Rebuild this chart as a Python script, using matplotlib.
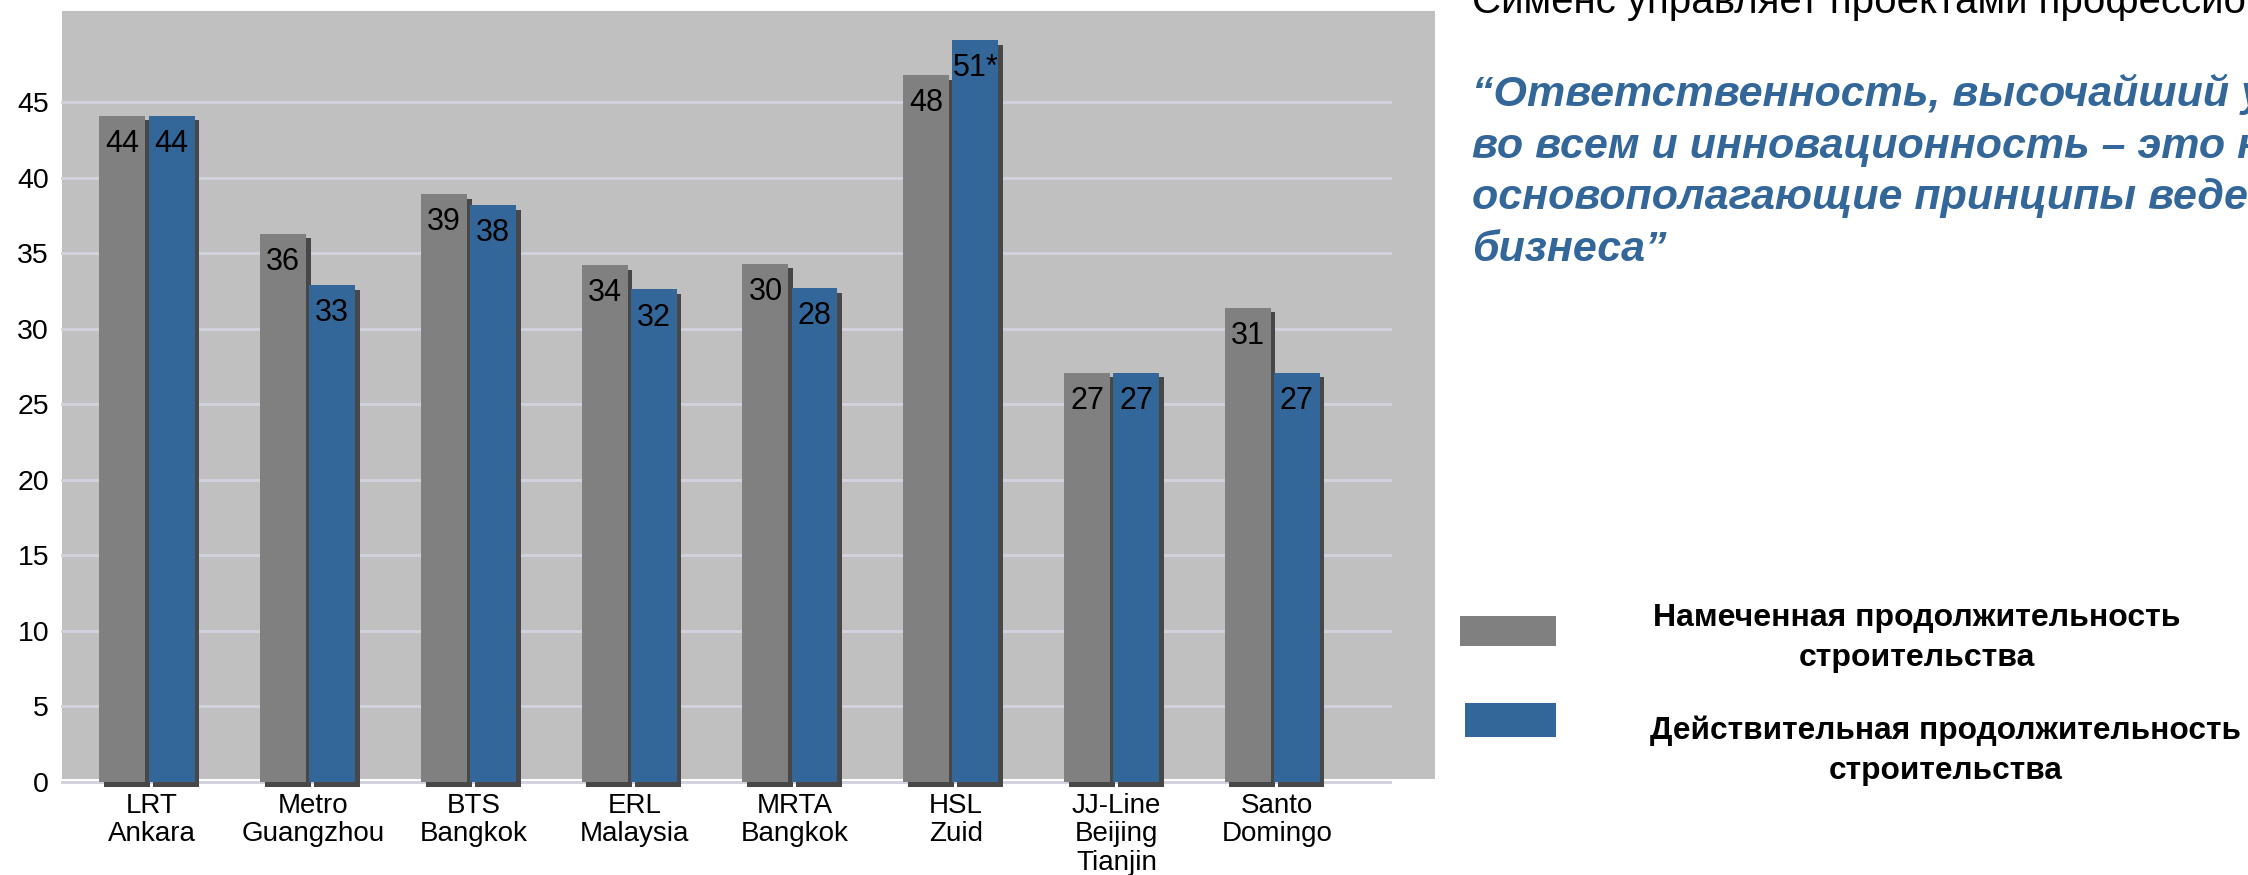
import matplotlib
matplotlib.use("Agg")
import matplotlib.pyplot as plt
import matplotlib.patheffects as pe
from matplotlib.patches import Rectangle
from matplotlib.transforms import ScaledTranslation
import numpy as np

plt.rcParams['font.family'] = ['Liberation Sans', 'DejaVu Sans']

# ---------------- data ----------------
categories = ["LRT\nAnkara", "Metro\nGuangzhou", "BTS\nBangkok", "ERL\nMalaysia",
              "MRTA\nBangkok", "HSL\nZuid", "JJ-Line\nBeijing\nTianjin", "Santo\nDomingo"]
planned_heights = [44.1, 36.3, 38.9, 34.2, 34.3, 46.8, 27.1, 31.4]
actual_heights = [44.1, 32.9, 38.2, 32.6, 32.7, 49.1, 27.1, 27.1]
planned_labels = ["44", "36", "39", "34", "30", "48", "27", "31"]
actual_labels = ["44", "33", "38", "32", "28", "51*", "27", "27"]
y_ticks = [0, 5, 10, 15, 20, 25, 30, 35, 40, 45]

legend_planned = "Намеченная продолжительность\nстроительства"
legend_actual = "Действительная продолжительность\nстроительства"
title_text = "Сименс управляет проектами профессионально"
quote_text = ("“Ответственность, высочайший уровень\n"
              "во всем и инновационность – это наши\n"
              "основополагающие принципы ведения\n"
              "бизнеса”")

GRAY = "#808080"
BLUE = "#336699"
SHADOW = "#474747"
PANEL = "#c0c0c0"
GRID = "#d2d2de"

W, H = 2248, 875
fig = plt.figure(figsize=(W / 100, H / 100), dpi=100)

def fx(px):
    return px / W

def fy(py):
    return 1 - py / H

# gray panel behind the plot
fig.patches.append(Rectangle((fx(62), fy(779)), fx(1435) - fx(62), fy(11) - fy(779),
                             transform=fig.transFigure, facecolor=PANEL,
                             edgecolor='none', zorder=-5))

# axes
ax_left, ax_right = 61, 1392
ax_top, ax_bottom = 11, 789.55
ax = fig.add_axes([fx(ax_left), fy(ax_bottom), fx(ax_right) - fx(ax_left), fy(ax_top) - fy(ax_bottom)])
ax.set_facecolor('none')
ax.set_zorder(2)
for s in ax.spines.values():
    s.set_visible(False)

x = np.arange(len(categories))
bw = 0.286
off = 0.1525
shadow = [pe.SimplePatchShadow(offset=(3.4, -3.4), shadow_rgbFace=SHADOW, alpha=1.0), pe.Normal()]

b1 = ax.bar(x - off, planned_heights, bw, color=GRAY, zorder=3)
b2 = ax.bar(x + off, actual_heights, bw, color=BLUE, zorder=3)
for b in list(b1) + list(b2):
    b.set_path_effects(shadow)

for xi, h, lab in zip(x - off, planned_heights, planned_labels):
    ax.annotate(lab, (xi, h), xytext=(0, -9.5), textcoords='offset points',
                ha='center', va='top', fontsize=22, color='black', zorder=5)
for xi, h, lab in zip(x + off, actual_heights, actual_labels):
    ax.annotate(lab, (xi, h), xytext=(0, -9.5), textcoords='offset points',
                ha='center', va='top', fontsize=22, color='black', zorder=5)

ax.set_ylim(-0.5, 51.03)
ax.set_xlim(-0.535, 7.745)
ax.set_yticks(y_ticks)
ax.set_yticklabels([str(v) for v in y_ticks])
ax.set_xticks(x)
ax.set_xticklabels(categories, linespacing=1.12)
ax.tick_params(axis='y', length=0, pad=8.6, labelsize=20.5)
ax.tick_params(axis='x', length=0, pad=2.5, labelsize=20)
for lbl in ax.get_xticklabels():
    lbl.set_transform(lbl.get_transform() + ScaledTranslation(5 / 100, 0, fig.dpi_scale_trans))
ax.yaxis.grid(True, color=GRID, linewidth=2.1, zorder=0)
ax.set_axisbelow(True)

# right-hand texts
fig.text(fx(1472), fy(13), title_text, ha='left', va='baseline', fontsize=29, color='black')
fig.text(fx(1472), fy(74), quote_text, ha='left', va='top', fontsize=31,
         fontweight='bold', fontstyle='italic', color=BLUE, linespacing=1.37)

# manual legend
fig.patches.append(Rectangle((fx(1460), fy(646)), fx(1556) - fx(1460), fy(616) - fy(646),
                             transform=fig.transFigure, facecolor=GRAY, edgecolor='none'))
fig.patches.append(Rectangle((fx(1465), fy(737)), fx(1556) - fx(1465), fy(703) - fy(737),
                             transform=fig.transFigure, facecolor=BLUE, edgecolor='none'))
fig.text(fx(1917), fy(638), legend_planned, ha='center', va='center', fontsize=23,
         fontweight='bold', color='black', linespacing=1.45, multialignment='center')
fig.text(fx(1946), fy(751), legend_actual, ha='center', va='center', fontsize=22.8,
         fontweight='bold', color='black', linespacing=1.45, multialignment='center')

fig.savefig("out.png", dpi=100)
